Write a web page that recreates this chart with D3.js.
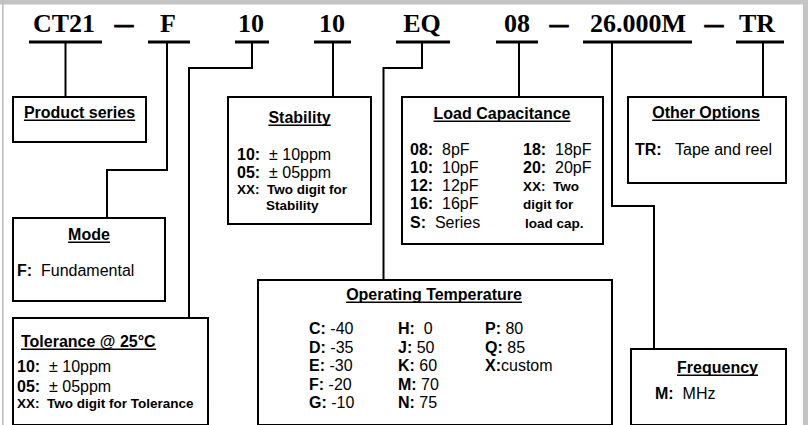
<!DOCTYPE html>
<html>
<head>
<meta charset="utf-8">
<script src="https://cdn.jsdelivr.net/npm/d3@7"></script>
<style>
  html, body { margin: 0; padding: 0; background: #fff; }
  svg { display: block; }
</style>
</head>
<body>
<script>
// ---------- DATA ----------
const codeLabels = ["CT21", "F", "10", "10", "EQ", "08", "26.000M", "TR"];
const codeSeparators = ["\u2013", "\u2013", "\u2013"];

const boxTitles = ["Product series", "Mode", "Tolerance @ 25°C", "Stability",
                   "Load Capacitance", "Operating Temperature", "Other Options", "Frequency"];

const modeItems = [["F:", "Fundamental"]];
const toleranceItems = [["10:", "\u00B1 10ppm"], ["05:", "\u00B1 05ppm"], ["XX:", "Two digit for Tolerance"]];
const stabilityItems = [["10:", "\u00B1 10ppm"], ["05:", "\u00B1 05ppm"], ["XX:", "Two digit for"], ["", "Stability"]];
const loadCapLeft = [["08:", "8pF"], ["10:", "10pF"], ["12:", "12pF"], ["16:", "16pF"], ["S:", "Series"]];
const loadCapRight = [["18:", "18pF"], ["20:", "20pF"], ["XX:", "Two"], ["", "digit for"], ["", "load cap."]];
const tempCol1 = [["C:", " -40"], ["D:", " -35"], ["E:", " -30"], ["F:", " -20"], ["G:", " -10"]];
const tempCol2 = [["H:", "\u00A0\u00A00"], ["J:", " 50"], ["K:", " 60"], ["M:", " 70"], ["N:", " 75"]];
const tempCol3 = [["P:", " 80"], ["Q:", " 85"], ["X:", "custom"]];
const otherItems = [["TR:", "\u00A0\u00A0\u00A0Tape and reel"]];
const freqItems = [["M:", "\u00A0\u00A0MHz"]];

// ---------- LAYOUT ----------
const W = 808, H = 425;
const SERIF = "'Liberation Serif','Times New Roman',serif";
const SANS = "'Liberation Sans',Arial,Helvetica,sans-serif";

const codeTextX = [64, 168, 251, 332, 422, 517, 638, 757];
const codeUnder = [[29,102],[148,190],[235,269],[314,351],[396,450],[496,538],[583,692],[736,784]];
const sepX = [124, 559, 714];
const codeBaseline = 32, underY = 42;

const boxes = [
  {x0:12,  x1:147, y0:96,  y1:143},  // Product series
  {x0:12,  x1:166, y0:217, y1:302},  // Mode
  {x0:12,  x1:209, y0:317, y1:426},  // Tolerance
  {x0:227, x1:372, y0:96,  y1:225},  // Stability
  {x0:401, x1:604, y0:96,  y1:245},  // Load cap
  {x0:257, x1:613, y0:279, y1:426},  // Op temp
  {x0:627, x1:787, y0:96,  y1:184},  // Other options
  {x0:630, x1:787, y0:348, y1:426}   // Frequency
];
const titlePos = [
  {x:79.5, y:118, anchor:"middle"},
  {x:89,   y:240, anchor:"middle"},
  {x:21,   y:347, anchor:"start"},
  {x:299.5,y:123, anchor:"middle"},
  {x:502,  y:119, anchor:"middle"},
  {x:434,  y:300, anchor:"middle"},
  {x:706,  y:118, anchor:"middle"},
  {x:717.5,y:373, anchor:"middle"}
];

// connector polylines, one per code label (index matches codeLabels)
const connectors = [
  [[65.5,42],[65.5,96]],
  [[167,42],[167,170],[107,170],[107,217]],
  [[252,42],[252,68],[189,68],[189,317]],
  [[333,42],[333,96]],
  [[422,42],[422,68],[383.5,68],[383.5,279]],
  [[519,42],[519,96]],
  [[612,42],[612,206],[654,206],[654,348]],
  [[763,42],[763,96]]
];

// ---------- DRAW ----------
const svg = d3.select("body").append("svg").attr("width", W).attr("height", H);
svg.append("rect").attr("width", W).attr("height", H).attr("fill", "#fff");

// outer frame (gray)
svg.append("rect").attr("x", 0).attr("y", 0).attr("width", W).attr("height", 4.5).attr("fill", "#c4c4c4");
svg.append("rect").attr("x", 2).attr("y", 0).attr("width", 1.6).attr("height", H).attr("fill", "#bdbdbd");
svg.append("rect").attr("x", 803).attr("y", 0).attr("width", 5).attr("height", H).attr("fill", "#c4c4c4");

// code labels
svg.append("g").selectAll("text").data(codeLabels).join("text")
  .attr("x", (d, i) => codeTextX[i]).attr("y", codeBaseline)
  .attr("text-anchor", "middle")
  .style("font-family", SERIF).style("font-weight", "bold").style("font-size", "26px")
  .attr("fill", "#000").text(d => d);

svg.append("g").selectAll("text").data(codeSeparators).join("text")
  .attr("x", (d, i) => sepX[i] - 9).attr("y", codeBaseline)
  .attr("textLength", 18).attr("lengthAdjust", "spacingAndGlyphs")
  .style("font-family", SERIF).style("font-weight", "bold").style("font-size", "26px")
  .attr("fill", "#000").attr("stroke", "#000").attr("stroke-width", 0.9).text(d => d);

// underlines
svg.append("g").selectAll("line").data(codeUnder).join("line")
  .attr("x1", d => d[0]).attr("x2", d => d[1]).attr("y1", underY).attr("y2", underY)
  .attr("stroke", "#000").attr("stroke-width", 3);

// connectors
const lineGen = d3.line();
svg.append("g").selectAll("path").data(connectors).join("path")
  .attr("d", d => lineGen(d)).attr("fill", "none")
  .attr("stroke", "#000").attr("stroke-width", 2);

// boxes
svg.append("g").selectAll("rect").data(boxes).join("rect")
  .attr("x", d => d.x0 + 1).attr("y", d => d.y0 + 1)
  .attr("width", d => d.x1 - d.x0 - 2).attr("height", d => d.y1 - d.y0 - 2)
  .attr("fill", "#fff").attr("stroke", "#000").attr("stroke-width", 2);

// titles (bold, underlined)
const titles = svg.append("g").selectAll("text").data(boxTitles).join("text")
  .attr("x", (d, i) => titlePos[i].x).attr("y", (d, i) => titlePos[i].y)
  .attr("text-anchor", (d, i) => titlePos[i].anchor)
  .style("font-family", SANS).style("font-weight", "bold").style("font-size", "16px")
  .attr("fill", "#000").text(d => d);
titles.each(function(d, i) {
  const bb = this.getBBox();
  svg.append("line")
    .attr("x1", bb.x).attr("x2", bb.x + bb.width)
    .attr("y1", titlePos[i].y + 2.2).attr("y2", titlePos[i].y + 2.2)
    .attr("stroke", "#000").attr("stroke-width", 1.4);
});

// item lines
function items(list, x, baselines, opts = {}) {
  const g = svg.append("g");
  list.forEach((it, i) => {
    const small = opts.smallFrom !== undefined && i >= opts.smallFrom;
    const t = g.append("text")
      .attr("x", Array.isArray(x) ? x[i] : x).attr("y", baselines[i])
      .style("font-family", SANS).style("font-size", small ? "13.5px" : "16px")
      .style("white-space", "pre").attr("fill", "#000");
    if (it[0]) t.append("tspan").style("font-weight", "bold").text(it[0]);
    const gap = (it[0] && opts.gap !== undefined) ? opts.gap : "";
    t.append("tspan").style("font-weight", small ? "bold" : "normal").text(gap + it[1]);
  });
}

const twoSp = "\u00A0\u00A0";
items(modeItems, 17, [276], {gap: twoSp});
items(toleranceItems, 17, [372, 392, 408], {smallFrom: 2, gap: twoSp});
items(stabilityItems, [237, 237, 237, 266], [160, 178, 194, 210], {smallFrom: 2, gap: twoSp});
items(loadCapLeft, 410, [155, 173, 191, 209, 227.5], {gap: twoSp});
items(loadCapRight, [523, 523, 523, 523, 525], [155, 173, 191, 209, 227.5], {smallFrom: 2, gap: twoSp});
items(tempCol1, 309, [334, 353, 371, 389.5, 408]);
items(tempCol2, 398, [334, 353, 371, 389.5, 408]);
items(tempCol3, 485, [334, 353, 371]);
items(otherItems, 635, [155]);
items(freqItems, 655, [399]);
</script>
</body>
</html>
